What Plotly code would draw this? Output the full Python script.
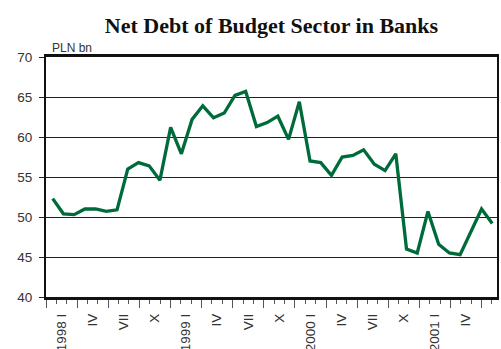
import plotly.graph_objects as go

# Monthly data, Jan 1998 - Jun 2001 (PLN bn)
months = [
    "1998-01", "1998-02", "1998-03", "1998-04", "1998-05", "1998-06",
    "1998-07", "1998-08", "1998-09", "1998-10", "1998-11", "1998-12",
    "1999-01", "1999-02", "1999-03", "1999-04", "1999-05", "1999-06",
    "1999-07", "1999-08", "1999-09", "1999-10", "1999-11", "1999-12",
    "2000-01", "2000-02", "2000-03", "2000-04", "2000-05", "2000-06",
    "2000-07", "2000-08", "2000-09", "2000-10", "2000-11", "2000-12",
    "2001-01", "2001-02", "2001-03", "2001-04", "2001-05", "2001-06",
]
net_debt = [
    52.3, 50.4, 50.3, 51.0, 51.0, 50.7,
    50.9, 56.0, 56.8, 56.4, 54.6, 61.2,
    57.9, 62.2, 63.9, 62.4, 63.0, 65.2,
    65.7, 61.3, 61.8, 62.6, 59.7, 64.4,
    57.0, 56.8, 55.2, 57.5, 57.7, 58.4,
    56.6, 55.8, 57.9, 46.0, 45.5, 50.7,
    46.6, 45.5, 45.3, 48.2, 51.0, 49.2,
]

tick_text = ["1998 I", "IV", "VII", "X", "1999 I", "IV", "VII", "X",
             "2000 I", "IV", "VII", "X", "2001 I", "IV"]
tick_slots = [1.5 + 3 * k for k in range(len(tick_text))]
y_ticks = [40, 45, 50, 55, 60, 65, 70]

SLOT_RANGE = [0, 43.49]
DATA_RANGE = [-0.625, 41.44]

fig = go.Figure()
fig.add_trace(go.Scatter(x=[], y=[], xaxis="x", yaxis="y", showlegend=False, hoverinfo="skip"))
fig.add_trace(go.Scatter(x=[], y=[], xaxis="x3", yaxis="y", showlegend=False, hoverinfo="skip"))
fig.add_trace(go.Scatter(
    x=months, y=net_debt, mode="lines", xaxis="x2", yaxis="y",
    line=dict(color="#006B3A", width=3.3), showlegend=False,
))

fig.update_layout(
    width=501, height=349,
    margin=dict(l=46, r=4, t=57, b=52),
    paper_bgcolor="white", plot_bgcolor="white",
    font=dict(family="Liberation Sans, Arial", size=13, color="#333"),
    title=dict(
        text="<b>Net Debt of Budget Sector in Banks</b>",
        font=dict(family="Liberation Serif, Times New Roman", size=22, color="#111"),
        x=0.5, xref="paper", xanchor="center",
        y=1 - 25 / 349, yref="container", yanchor="middle",
    ),
    yaxis=dict(
        range=[40, 70], tickmode="array", tickvals=y_ticks,
        showgrid=True, gridcolor="#222", gridwidth=1,
        ticks="outside", ticklen=5, tickcolor="#222",
        showline=True, linewidth=2, linecolor="#111", mirror=True,
        zeroline=False, ticklabelstandoff=4, automargin=False,
        tickfont=dict(size=13.5),
    ),
    xaxis=dict(
        range=SLOT_RANGE, tickmode="linear", tick0=0, dtick=3,
        ticks="outside", ticklen=8, tickcolor="#555", tickwidth=1,
        showticklabels=False, showgrid=False, zeroline=False,
        showline=True, linewidth=2.5, linecolor="#111", mirror=True,
        minor=dict(dtick=1, tick0=0, ticks="outside", ticklen=4,
                   tickcolor="#555", tickwidth=1, showgrid=False),
        automargin=False,
    ),
    xaxis3=dict(
        overlaying="x", anchor="y", side="bottom", range=SLOT_RANGE,
        tickmode="array", tickvals=tick_slots, ticktext=tick_text,
        tickangle=-90, ticks="", showline=False, showgrid=False,
        zeroline=False, ticklabelstandoff=13, automargin=False,
        tickfont=dict(size=13.5),
    ),
    xaxis2=dict(
        overlaying="x", anchor="y", type="category", range=DATA_RANGE,
        visible=False, automargin=False,
    ),
    annotations=[dict(
        text="PLN bn", xref="paper", yref="paper",
        x=(50 - 46) / 451, y=(297 - 48) / 240,
        xanchor="left", yanchor="middle", showarrow=False,
        font=dict(size=12, color="#333"),
    )],
)

fig.write_html("out.html")
